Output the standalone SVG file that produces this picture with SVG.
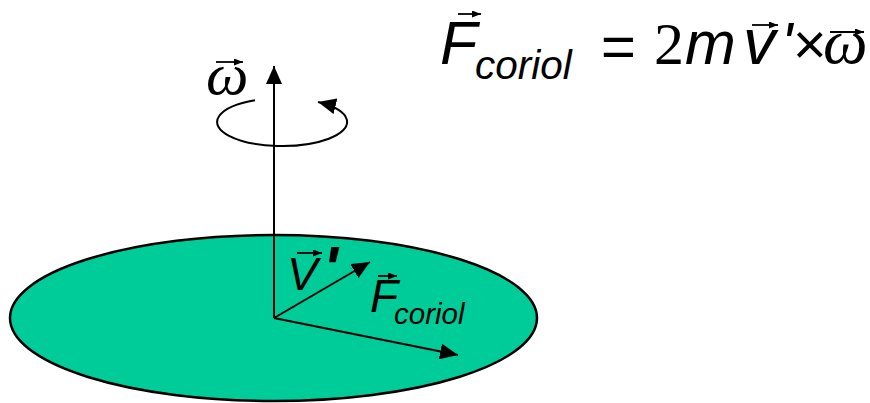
<svg xmlns="http://www.w3.org/2000/svg" width="870" height="403" viewBox="0 0 870 403">
<style>
.sans{font-family:"Liberation Sans",Arial,sans-serif;font-style:italic;fill:#000}
.serif{font-family:"Liberation Serif","Times New Roman",serif;fill:#000}
.ln{stroke:#000;stroke-width:2;fill:none}
.vec{stroke:#000;stroke-width:1.8;fill:none}
</style>
<defs>
<marker id="ah" viewBox="0 0 18 16" refX="18" refY="8" markerWidth="18" markerHeight="16" orient="auto" markerUnits="userSpaceOnUse">
<path d="M0,0 L18,8 L0,16 z" fill="#000"/>
</marker>
<marker id="sh" viewBox="0 0 9 7" refX="9" refY="3.5" markerWidth="9" markerHeight="7" orient="auto" markerUnits="userSpaceOnUse">
<path d="M0,0 L9,3.5 L0,7 z" fill="#000"/>
</marker>
</defs>
<g id="disk">
<ellipse cx="273.5" cy="318" rx="263.5" ry="83" fill="#00CC99" stroke="#000" stroke-width="2.5"/>
</g>
<g id="connectors">
<line class="ln" x1="274" y1="318" x2="274" y2="66" marker-end="url(#ah)"/>
<path class="ln" d="M255,100.2 A65,24 0 1 0 318,102" marker-end="url(#ah)"/>
<line class="ln" x1="274" y1="318" x2="370" y2="262" marker-end="url(#ah)"/>
<line class="ln" x1="274" y1="318" x2="458" y2="355" marker-end="url(#ah)"/>
</g>
<g id="omega-label">
<text class="serif" x="206" y="94" font-size="60" font-style="italic">ω</text>
<line class="vec" x1="216" y1="62" x2="243" y2="62" marker-end="url(#sh)"/>
</g>
<g id="v-label">
<text class="sans" x="287" y="290" font-size="46">V</text>
<line class="vec" x1="297" y1="253" x2="322" y2="253" marker-end="url(#sh)"/>
<text class="sans" x="323" y="289" font-size="62" font-weight="bold" font-style="normal">'</text>
</g>
<g id="f-label">
<text class="sans" x="370" y="312" font-size="46">F</text>
<line class="vec" x1="378" y1="276" x2="397" y2="276" marker-end="url(#sh)"/>
<text class="sans" x="394" y="324" font-size="29.5">coriol</text>
</g>
<g id="equation">
<text class="sans" x="440" y="64" font-size="61">F</text>
<line class="vec" x1="458" y1="14" x2="481" y2="14" marker-end="url(#sh)"/>
<text class="sans" x="475" y="79" font-size="40.5">coriol</text>
<text class="sans" x="600" y="67" font-size="60" font-style="normal">=</text>
<text class="serif" x="654" y="64" font-size="60">2</text>
<text class="sans" x="685" y="64" font-size="61">m</text>
<text class="sans" x="743" y="64" font-size="65">v</text>
<line class="vec" x1="752" y1="25" x2="778" y2="25" marker-end="url(#sh)"/>
<text class="sans" x="781" y="64" font-size="60" font-style="normal">'</text>
<text class="sans" x="792" y="64" font-size="58" font-style="normal">×</text>
<text class="serif" x="823" y="63" font-size="63" font-style="italic">ω</text>
<line class="vec" x1="830" y1="32" x2="864" y2="32" marker-end="url(#sh)"/>
</g>
</svg>
